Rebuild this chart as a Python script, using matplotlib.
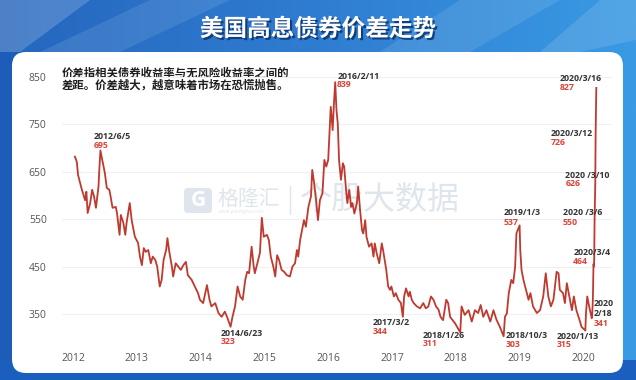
import numpy as np
import matplotlib
matplotlib.use("Agg")
import matplotlib.pyplot as plt
from matplotlib.patches import FancyBboxPatch, Polygon, Rectangle
from matplotlib.colors import LinearSegmentedColormap
import matplotlib.patheffects as pe

plt.rcParams['font.family'] = ['Open Sans', 'Noto Sans CJK SC', 'DejaVu Sans']

# ---------------- data (decimal years, spread in bp) ----------------
years = [
    2012.03, 2012.06, 2012.08, 2012.14, 2012.19, 2012.21, 2012.23, 2012.27, 2012.30, 2012.33,
    2012.36, 2012.40, 2012.41, 2012.43, 2012.47, 2012.50, 2012.53, 2012.57, 2012.59, 2012.62,
    2012.67, 2012.69, 2012.73, 2012.75, 2012.79, 2012.82, 2012.84, 2012.89, 2012.92, 2012.97,
    2013.02, 2013.05, 2013.08, 2013.11, 2013.14, 2013.18, 2013.22, 2013.25, 2013.29, 2013.32,
    2013.36, 2013.39, 2013.42, 2013.46, 2013.48, 2013.51, 2013.55, 2013.57, 2013.61, 2013.65,
    2013.69, 2013.73, 2013.77, 2013.80, 2013.86, 2013.91, 2013.96, 2013.99,
    2014.04, 2014.10, 2014.14, 2014.17, 2014.23, 2014.28, 2014.33, 2014.38, 2014.42, 2014.47,
    2014.50, 2014.54, 2014.58, 2014.62, 2014.66, 2014.70, 2014.73, 2014.76, 2014.80, 2014.83,
    2014.85, 2014.89, 2014.93, 2014.96, 2014.99,
    2015.04, 2015.07, 2015.10, 2015.14, 2015.17, 2015.20, 2015.23, 2015.27, 2015.31, 2015.35,
    2015.40, 2015.44, 2015.48, 2015.51, 2015.53, 2015.56, 2015.59, 2015.62, 2015.65, 2015.69,
    2015.73, 2015.75, 2015.78, 2015.81, 2015.84, 2015.87, 2015.91, 2015.94, 2015.97,
    2016.00, 2016.04, 2016.07, 2016.09, 2016.11, 2016.13, 2016.15, 2016.17, 2016.20, 2016.23,
    2016.25, 2016.28, 2016.30, 2016.33, 2016.36, 2016.38, 2016.41, 2016.45, 2016.47, 2016.50,
    2016.53, 2016.55, 2016.58, 2016.60, 2016.64, 2016.68, 2016.71, 2016.73, 2016.76, 2016.80,
    2016.84, 2016.86, 2016.91, 2016.94, 2016.97, 2016.99,
    2017.03, 2017.06, 2017.10, 2017.14, 2017.17, 2017.19, 2017.22, 2017.26, 2017.28, 2017.31,
    2017.34, 2017.39, 2017.44, 2017.49, 2017.53, 2017.57, 2017.61, 2017.65, 2017.69, 2017.73,
    2017.76, 2017.80, 2017.85, 2017.88, 2017.91, 2017.99,
    2018.07, 2018.09, 2018.14, 2018.20, 2018.25, 2018.30, 2018.35, 2018.39, 2018.43, 2018.48,
    2018.54, 2018.59, 2018.64, 2018.69, 2018.75, 2018.77, 2018.80, 2018.83, 2018.87, 2018.90,
    2018.93, 2018.95,
    2019.00, 2019.01, 2019.03, 2019.06, 2019.10, 2019.14, 2019.17, 2019.21, 2019.27, 2019.32,
    2019.37, 2019.41, 2019.45, 2019.49, 2019.53, 2019.58, 2019.61, 2019.63, 2019.68, 2019.71,
    2019.74, 2019.78, 2019.82, 2019.85, 2019.89, 2019.94, 2019.97,
    2020.03, 2020.04, 2020.06, 2020.09, 2020.131, 2020.139, 2020.148, 2020.153, 2020.158, 2020.164,
    2020.169, 2020.175, 2020.186, 2020.191, 2020.202,
]
spread = [
    682, 671, 643, 612, 590, 608, 563, 584, 612, 598,
    574, 619, 647, 695, 668, 647, 616, 612, 598, 574,
    576, 563, 517, 559, 542, 517, 542, 584, 548, 513,
    500, 471, 453, 489, 481, 485, 457, 471, 464, 450,
    408, 422, 464, 485, 510, 481, 450, 429, 457, 450,
    443, 453, 460, 432, 422, 408, 394, 380,
    373, 411, 380, 366, 373, 352, 344, 355, 342, 323,
    344, 366, 408, 387, 380, 422, 439, 436, 492, 453,
    436, 457, 479, 553, 513,
    517, 506, 471, 450, 429, 474, 464, 443, 439, 432,
    429, 450, 457, 485, 471, 506, 527, 548, 534, 576,
    598, 654, 626, 590, 548, 590, 605, 675, 661,
    675, 787, 738, 794, 839, 780, 752, 675, 633, 668,
    661, 612, 584, 612, 576, 584, 562, 584, 619, 569,
    527, 520, 548, 513, 492, 499, 471, 499, 478, 457,
    499, 485, 443, 408, 401, 408,
    387, 394, 380, 373, 344, 387, 404, 387, 397, 380,
    373, 366, 362, 373, 362, 366, 387, 380, 366, 359,
    344, 337, 380, 373, 344, 330,
    311, 366, 348, 358, 334, 358, 352, 369, 344, 358,
    334, 358, 337, 323, 303, 344, 351, 394, 422, 415,
    450, 520,
    537, 485, 443, 422, 401, 380, 394, 366, 352, 358,
    387, 436, 387, 366, 380, 439, 436, 401, 394, 373,
    415, 387, 358, 387, 358, 337, 323,
    315, 351, 387, 366, 341, 352, 380, 420, 455, 450,
    464, 550, 626, 726, 827,
]

tick_years = [2012, 2013, 2014, 2015, 2016, 2017, 2018, 2019, 2020]
tick_labels = [str(y) for y in tick_years]
y_ticks = [350, 450, 550, 650, 750, 850]

title = "美国高息债券价差走势"
note = "价差指相关债券收益率与无风险收益率之间的\n差距。价差越大，越意味着市场在恐慌抛售。"

ann_years = [2012.43, 2014.47, 2016.11, 2017.17, 2018.07, 2018.75, 2019.00, 2020.03,
             2020.131, 2020.169, 2020.175, 2020.186, 2020.191, 2020.202]
ann_values = [695, 323, 839, 344, 311, 303, 537, 315, 341, 464, 550, 626, 726, 827]
ann_labels = ["2012/6/5", "2014/6/23", "2016/2/11", "2017/3/2", "2018/1/26", "2018/10/3",
              "2019/1/3", "2020/1/13", "2020\n2/18", "2020/3/4", "2020 /3/6", "2020 /3/10",
              "2020/3/12", "2020/3/16"]
# label offsets in pixels (date dx, date dy, value dy); y positive = downward
ann_offsets = [(-7, -14, -5), (-10, 7, 15), (2, -6, 2), (-30, 6, 15), (-38, 3, 11),
               (2, -1, 8), (-16, -13, -3), (-29, 6, 14), (1.5, -10, 5), (-21, -7, 2),
               (-32, -7, 3), (-30, -8, 0), (-45, -2, 7), (-37, -9, 0)]

W, H = 636, 380
fig = plt.figure(figsize=(W / 100, H / 100), dpi=100)

# ---------------- background ----------------
bg = fig.add_axes([0, 0, 1, 1])
bg.set_xlim(0, W)
bg.set_ylim(H, 0)
bg.axis('off')
grad = np.linspace(0, 1, 256)[None, :]
cmap = LinearSegmentedColormap.from_list('bgb', ['#2566bd', '#2f7dd2', '#3a9ae3'])
bg.imshow(grad, extent=(0, W, H, 0), cmap=cmap, aspect='auto', zorder=0)
for poly, a in [([(0, 0), (90, 0), (20, 52), (0, 52)], 0.18),
                ([(150, 0), (230, 0), (120, 52), (40, 52)], 0.10),
                ([(460, 0), (560, 0), (470, 52), (380, 52)], 0.10),
                ([(600, 0), (636, 0), (636, 40), (580, 52), (540, 52)], 0.12)]:
    bg.add_patch(Polygon(poly, closed=True, facecolor='white', alpha=a, lw=0, zorder=1))
bg.add_patch(Rectangle((0, 52), 30, 328, facecolor='#1b5db8', lw=0, zorder=1))
bg.add_patch(Rectangle((0, 360), W, 20, facecolor='#1b5fbe', lw=0, zorder=1))
bg.add_patch(FancyBboxPatch((12, 52), 611, 321, boxstyle="round,pad=0,rounding_size=14",
                            facecolor='white', edgecolor='none', zorder=2))
bg.text(W / 2, 30, title, ha='center', va='center', color='white', fontsize=17,
        fontweight='bold', zorder=3,
        path_effects=[pe.withSimplePatchShadow(offset=(1.5, -1.5), shadow_rgbFace='#0b2f66', alpha=0.8)])

# watermark
wm = '#dfe5ed'
bg.add_patch(FancyBboxPatch((184, 188), 28, 25, boxstyle="round,pad=0,rounding_size=4",
                            facecolor=wm, edgecolor='none', zorder=2.5))
bg.text(198, 201, "G", ha='center', va='center', color='white', fontsize=15,
        fontweight='bold', zorder=2.6)
bg.text(217, 199, "格隆汇", ha='left', va='center', color=wm, fontsize=15, zorder=2.5)
bg.text(219, 212, "www.gelonghui.com", ha='left', va='center', color=wm, fontsize=3.5, zorder=2.5)
bg.plot([290, 290], [186, 214], color=wm, lw=1, zorder=2.5)
bg.text(300, 200, "个股大数据", ha='left', va='center', color=wm, fontsize=23, zorder=2.5)

bg.text(62, 80, note, ha='left', va='center', color='#1e1e1e', fontsize=8.2,
        fontweight='bold', linespacing=1.15, zorder=3)

# ---------------- chart ----------------
ax = fig.add_axes([62 / W, 1 - 342 / H, (612 - 62) / W, 274 / H])
ax.patch.set_alpha(0)
ax.plot(years, spread, color='#c0392f', lw=1.3, solid_joinstyle='round', zorder=3)
ax.set_xlim(2011.828, 2020.448)
ax.set_ylim(290.9, 869)
ax.set_xticks(tick_years)
ax.set_xticklabels(tick_labels)
ax.set_yticks(y_ticks)
ax.tick_params(axis='both', length=0, labelcolor='#555555')
ax.tick_params(axis='y', pad=11, labelsize=7.5)
ax.tick_params(axis='x', pad=8, labelsize=7.5)
for s in ax.spines.values():
    s.set_visible(False)
ax.grid(axis='y', color='#f0f0f0', lw=0.8, zorder=0)

for t, v, lab, (dx, dy, vdy) in zip(ann_years, ann_values, ann_labels, ann_offsets):
    ax.annotate(lab, xy=(t, v), xytext=(dx, -dy), textcoords='offset pixels',
                ha='left', va='center', fontsize=6.3, fontweight='bold', color='#333333',
                linespacing=1.15, zorder=4)
    ax.annotate(str(v), xy=(t, v), xytext=(dx, -vdy),
                textcoords='offset pixels', ha='left', va='center', fontsize=6.3,
                fontweight='bold', color='#d6453a', zorder=4)

fig.savefig("out.png", dpi=100)
